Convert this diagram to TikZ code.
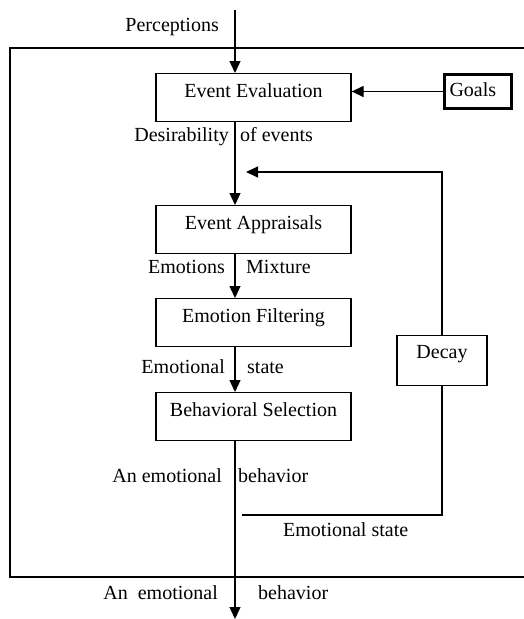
\documentclass[tikz,border=0pt]{standalone}
\usepackage{fontspec}
\setmainfont{Liberation Serif}
\usetikzlibrary{arrows.meta}
\begin{document}
\begin{tikzpicture}[x=1pt,y=-1pt,
  every node/.style={font=\fontsize{20}{24}\selectfont},
  line/.style={line width=1.3pt},
  arr/.style={line width=1.3pt,-{Triangle[width=11pt,length=12pt]}},
  stagebox/.style={draw,line width=1.3pt,minimum width=195pt,inner xsep=0pt,inner ysep=0pt,
    text height=24pt,text depth=24pt,anchor=north},
  lbl/.style={inner sep=0pt}]
\useasboundingbox (0,0) rectangle (524,619);
\clip (0,0) rectangle (524,619);

% outer frame of the model
\draw[line width=1.5pt] (10,48) rectangle (560,577);

% processing stages
\node[stagebox] (ee) at (253.5,73)  {Event Evaluation};
\node[stagebox] (ea) at (253.5,205) {Event Appraisals};
\node[stagebox] (ef) at (253.5,298) {Emotion Filtering};
\node[stagebox] (bs) at (253.5,392) {Behavioral Selection};

\node[draw,line width=3pt,anchor=north west,minimum height=34pt,
      text width=57pt,align=left,inner xsep=5pt,inner ysep=0pt,
      text height=16pt,text depth=6pt] (goals) at (443,73) {Goals};
\node[draw,line width=1.3pt,minimum width=90pt,minimum height=50pt,inner sep=0pt,
      text height=23pt,text depth=27pt,anchor=north] (decay) at (442,335) {Decay};

% spine coordinates
\coordinate (perc) at (235,10);
\coordinate (out) at (235,619);
\coordinate (fbtip) at (246,172);
\coordinate (esend) at (242,515);

% connectors
\draw[arr] (perc) -- (ee.north -| perc);
\draw[arr] (goals.west) -- (goals.west -| ee.east);
\draw[arr] (ee.south -| perc) -- (ea.north -| perc);
\draw[arr] (ea.south -| perc) -- (ef.north -| perc);
\draw[arr] (ef.south -| perc) -- (bs.north -| perc);
\draw[arr] (bs.south -| perc) -- (out);
\draw[arr] (decay.north) |- (fbtip);
\draw[line] (decay.south) |- (esend);

% flow labels
\node[lbl,anchor=base east] (lperc) at (219,31) {Perceptions};
\node[lbl,anchor=base east] (ldes) at (229,141) {Desirability};
\node[lbl,anchor=base west] (lofev) at (240,141) {of events};
\node[lbl,anchor=base east] (lemo) at (225,273) {Emotions};
\node[lbl,anchor=base west] (lmix) at (246,273) {Mixture};
\node[lbl,anchor=base east] (lst1a) at (225,373) {Emotional};
\node[lbl,anchor=base west] (lst1b) at (247,373) {state};
\node[lbl,anchor=base east] (lbeh1a) at (222,482) {An emotional};
\node[lbl,anchor=base west] (lbeh1b) at (238,482) {behavior};
\node[lbl,anchor=base west] (lst2) at (283,536) {Emotional state};
\node[lbl,anchor=base east] (lbeh2a) at (218,599) {An\ \ emotional};
\node[lbl,anchor=base west] (lbeh2b) at (258,599) {behavior};
\end{tikzpicture}
\end{document}
